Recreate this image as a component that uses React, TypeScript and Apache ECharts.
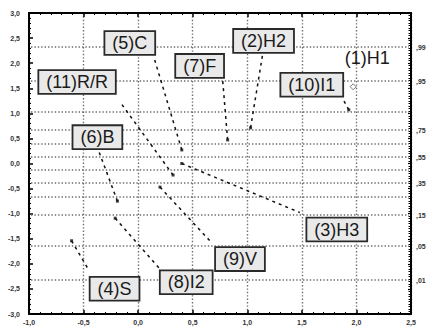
import React, { useEffect, useRef } from 'react';
import * as echarts from 'echarts';

// ---- data ----
const pointNames = ['(1)H1', '(2)H2', '(3)H3', '(4)S', '(5)C', '(6)B', '(7)F', '(8)I2', '(9)V', '(10)I1', '(11)R/R'];
const effectX = [1.97, 1.03, 0.4, -0.61, 0.4, -0.19, 0.82, -0.21, 0.2, 1.93, 0.32];
const expectedY = [1.53, 0.71, 0.0, -1.54, 0.27, -0.75, 0.47, -1.09, -0.47, 1.07, -0.23];
const probLevels = [0.99, 0.95, 0.85, 0.75, 0.65, 0.55, 0.45, 0.35, 0.25, 0.15, 0.05, 0.01];
const probLabels = [',99', ',95', '', ',75', '', ',55', '', ',35', '', ',15', ',05', ',01'];

// ---- label layout (pixel offsets from the point) ----
const labelPlacement: { dx: number; dy: number; box: boolean; line: number[] | null }[] = [
  { dx: 14, dy: -29, box: false, line: null },
  { dx: 13, dy: -87, box: true, line: [12, -73] },
  { dx: 155, dy: 66, box: true, line: [118, 49] },
  { dx: 43, dy: 48, box: true, line: [17, 29] },
  { dx: -52, dy: -107, box: true, line: [-28, -93] },
  { dx: -20, dy: -64, box: true, line: [-19, -51] },
  { dx: -28, dy: -74, box: true, line: [-5, -60] },
  { dx: 71, dy: 64, box: true, line: [44, 50] },
  { dx: 80, dy: 72, box: true, line: [52, 56] },
  { dx: -37, dy: -25, box: true, line: [-6, -11] },
  { dx: -96, dy: -93, box: true, line: [-53, -73] },
];

// inverse standard normal (probability axis scale)
function probit(p: number): number {
  const a = [-3.969683028665376e1, 2.209460984245205e2, -2.759285104469687e2, 1.38357751867269e2, -3.066479806614716e1, 2.506628277459239];
  const b = [-5.447609879822406e1, 1.615858368580409e2, -1.556989798598866e2, 6.680131188771972e1, -1.328068155288572e1];
  const c = [-7.784894002430293e-3, -3.223964580411365e-1, -2.400758277161838, -2.549732539343734, 4.374664141464968, 2.938163982698783];
  const d = [7.784695709041462e-3, 3.224671290700398e-1, 2.445134137142996, 3.754408661907416];
  const plow = 0.02425;
  if (p < plow) {
    const q = Math.sqrt(-2 * Math.log(p));
    return (((((c[0] * q + c[1]) * q + c[2]) * q + c[3]) * q + c[4]) * q + c[5]) / ((((d[0] * q + d[1]) * q + d[2]) * q + d[3]) * q + 1);
  }
  if (p <= 1 - plow) {
    const q = p - 0.5;
    const r = q * q;
    return ((((((a[0] * r + a[1]) * r + a[2]) * r + a[3]) * r + a[4]) * r + a[5]) * q) / (((((b[0] * r + b[1]) * r + b[2]) * r + b[3]) * r + b[4]) * r + 1);
  }
  const q = Math.sqrt(-2 * Math.log(1 - p));
  return -(((((c[0] * q + c[1]) * q + c[2]) * q + c[3]) * q + c[4]) * q + c[5]) / ((((d[0] * q + d[1]) * q + d[2]) * q + d[3]) * q + 1);
}

const commaFmt = (v: number) => v.toFixed(1).replace('.', ',');
const tickFont = { fontSize: 7, fontWeight: 'bold' as const, fontFamily: 'Liberation Sans, Arial, sans-serif', color: '#333' };
const gridColor = '#6e6e6e';
const gridDash = [1.4, 2];
const gridWidth = 1.4;

export default function App() {
  const ref = useRef<HTMLDivElement>(null);
  useEffect(() => {
    if (!ref.current) return;
    const chart = echarts.init(ref.current, undefined, { renderer: 'svg' });
    const pts = pointNames.map((_, i) => [effectX[i], expectedY[i]]);
    const axisLine = { show: true, onZero: false, lineStyle: { color: '#000', width: 2 } };
    chart.setOption({
      animation: false,
      backgroundColor: '#fff',
      grid: { left: 29, right: 17, top: 13, bottom: 19, containLabel: false },
      xAxis: [
        {
          type: 'value', min: -1, max: 2.5, interval: 0.5, position: 'bottom',
          axisLine, axisTick: { inside: true, length: 4, lineStyle: { color: '#000', width: 1.5 } },
          minorTick: { show: true, splitNumber: 5, length: 2, lineStyle: { color: '#000', width: 1 } },
          splitLine: { show: true, lineStyle: { color: gridColor, width: gridWidth, type: gridDash } },
          axisLabel: { ...tickFont, margin: 5, formatter: commaFmt },
        },
        {
          type: 'value', min: -1, max: 2.5, interval: 0.5, position: 'top',
          axisLine, axisTick: { inside: true, length: 4, lineStyle: { color: '#000', width: 1.5 } },
          minorTick: { show: true, splitNumber: 5, length: 2, lineStyle: { color: '#000', width: 1 } },
          splitLine: { show: false }, axisLabel: { show: false },
        },
      ],
      yAxis: [
        {
          type: 'value', min: -3, max: 3, interval: 0.5, position: 'left',
          axisLine, axisTick: { inside: true, length: 4, lineStyle: { color: '#000', width: 1.5 } },
          minorTick: { show: true, splitNumber: 5, length: 2, lineStyle: { color: '#000', width: 1 } },
          splitLine: { show: false },
          axisLabel: { ...tickFont, margin: 9, formatter: commaFmt },
        },
        {
          type: 'value', min: -3, max: 3, interval: 0.5, position: 'right',
          axisLine, axisTick: { inside: true, length: 3, lineStyle: { color: '#000', width: 1.2 } },
          minorTick: { show: true, splitNumber: 10, length: 2.5, lineStyle: { color: '#000', width: 1 } },
          splitLine: { show: false }, axisLabel: { show: false },
        },
      ],
      series: [
        {
          // probability grid lines + right-hand probability labels
          type: 'custom',
          xAxisIndex: 0, yAxisIndex: 0,
          clip: false, z: 1, silent: true,
          data: probLevels.map((p) => [0, probit(p)]),
          encode: { x: 0, y: 1 },
          renderItem: (params: any, api: any) => {
            const i = params.dataIndex;
            const cs = params.coordSys;
            const yy = Math.round(api.coord([0, api.value(1)])[1]);
            const children: any[] = [
              {
                type: 'line',
                shape: { x1: cs.x + 2, y1: yy, x2: cs.x + cs.width - 2, y2: yy },
                style: { stroke: gridColor, lineWidth: gridWidth, lineDash: gridDash },
              },
            ];
            if (probLabels[i]) {
              children.push({
                type: 'text',
                x: cs.x + cs.width + 5,
                y: yy,
                style: {
                  text: probLabels[i], fill: '#333',
                  font: 'bold 7px "Liberation Sans", Arial, sans-serif',
                  align: 'left', verticalAlign: 'middle',
                },
              });
            }
            return { type: 'group', children };
          },
        },
        {
          type: 'scatter',
          xAxisIndex: 0, yAxisIndex: 0,
          symbol: 'rect', symbolSize: 3,
          itemStyle: { color: '#111' },
          data: pts.map((p, i) =>
            i === 0
              ? { value: p, symbol: 'diamond', symbolSize: 6, itemStyle: { color: 'rgba(0,0,0,0)', borderColor: '#555', borderWidth: 1 } }
              : { value: p }
          ),
          z: 3,
        },
        {
          type: 'custom',
          xAxisIndex: 0, yAxisIndex: 0,
          clip: false, z: 5,
          data: pts,
          encode: { x: 0, y: 1 },
          renderItem: (params: any, api: any) => {
            const i = params.dataIndex;
            const p = api.coord([api.value(0), api.value(1)]);
            const lp = labelPlacement[i];
            const children: any[] = [];
            if (lp.line) {
              children.push({
                type: 'line',
                shape: { x1: p[0], y1: p[1], x2: p[0] + lp.line[0], y2: p[1] + lp.line[1] },
                style: { stroke: '#111', lineWidth: 1.5, lineDash: [3, 4] },
              });
            }
            children.push({
              type: 'text',
              x: p[0] + lp.dx,
              y: p[1] + lp.dy,
              z2: 10,
              style: {
                text: pointNames[i],
                fill: '#1a1a1a',
                font: '18px "Liberation Sans", Arial, sans-serif',
                align: 'center',
                verticalAlign: 'middle',
                ...(lp.box
                  ? { backgroundColor: '#e9e9e9', borderColor: '#2a2a2a', borderWidth: 1.8, padding: [2, 7] }
                  : {}),
              },
            });
            return { type: 'group', children };
          },
        },
      ],
    });
    return () => chart.dispose();
  }, []);
  return <div ref={ref} style={{ position: 'absolute', left: 0, top: 0, width: 428, height: 333 }} />;
}
